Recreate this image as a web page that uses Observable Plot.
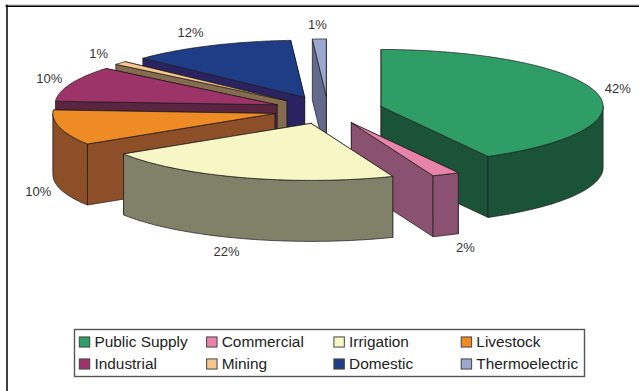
<!DOCTYPE html>
<html>
<head>
<meta charset="utf-8">
<script src="https://cdn.jsdelivr.net/npm/d3@7"></script>
<script src="https://cdn.jsdelivr.net/npm/@observablehq/plot@0.6"></script>
<style>
  html, body { margin: 0; padding: 0; background: #fff; }
  #chart { position: relative; width: 639px; height: 391px; overflow: hidden; }
  #chart svg { position: absolute; display: block; }
</style>
</head>
<body>
<div id="chart"></div>
<script>
const categories = ["Public Supply", "Commercial", "Irrigation", "Livestock", "Industrial", "Mining", "Domestic", "Thermoelectric"];
const shares = [42, 2, 22, 10, 10, 1, 12, 1];
const topColors = ["#2F9E66", "#E884A9", "#F7F6C5", "#EF8B24", "#9C3469", "#F5C68E", "#1F3C87", "#9DA8D1"];
const sideColors = ["#1B5339", "#8A5270", "#81816A", "#8C4F28", "#5A2540", "#866C4E", "#2B2361", "#646A8C"];
const paintOrder = [7, 6, 5, 4, 3, 0, 1, 2];

const explode = 0.247;   // slice pull-out, in radii
const depth = 61 / 57;   // wall height, in vertical radii
const TAU = 2 * Math.PI;

// Slices in unit-pie coordinates: u to the right, v upward.
let running = 0;
const slices = shares.map((share, i) => {
  const a0 = running / 100 * TAU;
  running += share;
  const a1 = running / 100 * TAU;
  const mid = (a0 + a1) / 2;
  return {i, share, a0, a1, mid, u: explode * Math.sin(mid), v: explode * Math.cos(mid)};
});

const rimPoint = (s, a, drop = 0) => ({x: s.u + Math.sin(a), y: s.v + Math.cos(a) - drop});
const arc = (s, from, to, drop = 0) => {
  const n = Math.max(2, Math.ceil((to - from) / 0.02));
  return d3.range(n + 1).map(k => rimPoint(s, from + (to - from) * k / n, drop));
};
const apex = (s, drop = 0) => ({x: s.u, y: s.v - drop});
const closed = pts => [...pts, pts[0]];

function facesOf(s) {
  const radial = a => closed([apex(s), rimPoint(s, a), rimPoint(s, a, depth), apex(s, depth)]);
  const faces = [];
  // Cut faces, the one further back first so the nearer one paints over it.
  const cuts = [s.a0, s.a1].sort((p, q) => Math.cos(q) - Math.cos(p));
  for (const a of cuts) faces.push({pts: radial(a), fill: sideColors[s.i]});
  // Outer wall: only the part of the rim that faces the viewer.
  const from = Math.max(s.a0, Math.PI / 2), to = Math.min(s.a1, 1.5 * Math.PI);
  if (to > from) faces.push({pts: closed([...arc(s, from, to), ...arc(s, from, to, depth).reverse()]), fill: sideColors[s.i]});
  faces.push({pts: closed([apex(s), ...arc(s, s.a0, s.a1)]), fill: topColors[s.i]});
  return faces;
}

const faceMarks = paintOrder.flatMap(i => facesOf(slices[i]).map(f =>
  Plot.line(f.pts, {x: "x", y: "y", fill: f.fill, stroke: "#1a1a1a", strokeWidth: 0.7, curve: "linear"})
));

const labels = slices.map(s => {
  const c = Math.cos(s.mid);
  return {
    x: s.u + (1.1 + 0.16 * c ** 4) * Math.sin(s.mid),
    y: s.v + 1.25 * c - (c < -0.2 ? depth : 0),
    text: s.share + "%"
  };
});

const pie = Plot.plot({
  width: 639, height: 391,
  margin: 0,
  x: {domain: [-1, 1], range: [105.5, 549.5], axis: null},
  y: {domain: [-1, 1], range: [166.5, 52.5], axis: null},
  marks: [
    Plot.frame({anchor: "top", insetTop: 4.5, insetLeft: 5, stroke: "#bbb", strokeWidth: 1}),
    Plot.frame({anchor: "top", insetTop: 5.7, insetLeft: 5.8, stroke: "#000", strokeWidth: 1.5}),
    Plot.frame({anchor: "left", insetLeft: 6.5, insetTop: 5, stroke: "#000", strokeWidth: 1.5}),
    ...faceMarks,
    Plot.text(labels, {x: "x", y: "y", text: "text", fontSize: 13, fill: "#333", fontFamily: "Liberation Sans"})
  ]
});
pie.style.left = "0px"; pie.style.top = "0px";

const legendRows = categories.map((name, i) => ({name, col: i % 4, row: Math.floor(i / 4), color: topColors[i]}));
const legend = Plot.plot({
  width: 510, height: 47,
  margin: 0,
  x: {domain: [0, 4], range: [5.3, 514.5], axis: null},
  y: {domain: [0, 2], range: [2, 46], axis: null},
  marks: [
    Plot.frame({stroke: "#555", strokeWidth: 1.4}),
    Plot.rect(legendRows, {x1: d => d.col, x2: d => d.col + 0.082, y1: d => d.row + 0.27, y2: d => d.row + 0.73,
      fill: "color", stroke: "#444", strokeWidth: 1}),
    Plot.text(legendRows, {x: d => d.col + 0.115, y: d => d.row + 0.5, text: "name", textAnchor: "start",
      fontSize: 15.4, fill: "#222", fontFamily: "Liberation Sans"})
  ]
});
legend.style.left = "74px"; legend.style.top = "329px"; legend.style.background = "#fff"; legend.style.overflow = "visible";

document.getElementById("chart").append(pie, legend);
</script>
</body>
</html>
